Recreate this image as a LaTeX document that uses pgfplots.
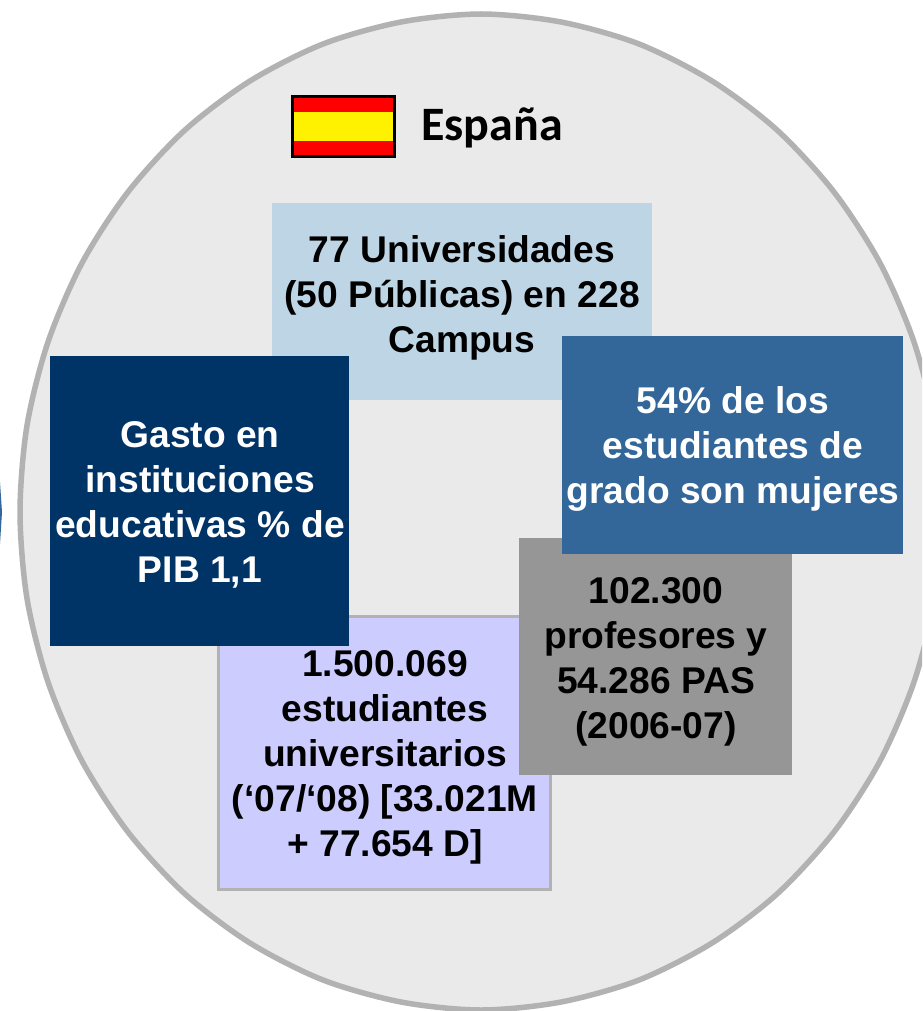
\documentclass[border=0pt]{standalone}
\usepackage{fontspec}
\setmainfont{Liberation Sans}
\newfontfamily\cardfont{Carlito}
\usepackage{pgfplots}
\pgfplotsset{compat=1.18}
\definecolor{circfill}{HTML}{EAEAEA}
\definecolor{circline}{HTML}{B2B2B2}
\definecolor{lightbox}{HTML}{BDD5E4}
\definecolor{navybox}{HTML}{003366}
\definecolor{bluebox}{HTML}{336699}
\definecolor{graybox}{HTML}{969696}
\definecolor{lavbox}{HTML}{CCCCFF}
\tikzset{boxtext/.style={font=\fontsize{37.2}{45}\selectfont\bfseries, align=center, inner sep=0pt}}

\begin{document}
\begin{tikzpicture}
\begin{axis}[
    scale only axis,
    width=922pt, height=1011pt,
    xmin=0, xmax=922, ymin=0, ymax=1011,
    y dir=reverse,
    axis lines=none,
]
% page background, keeps the full frame in the bounding box
\addplot[fill=white, draw=none] coordinates {(0,0)(922,0)(922,1011)(0,1011)} --cycle;
% sliver of the neighbouring shape at the left edge
\addplot[fill=bluebox, draw=none] coordinates {(0,482)(2,512)(0,544)} --cycle;
% big ellipse
\addplot[smooth cycle, fill=circfill, draw=circline, line width=5.5pt] coordinates {
    (942,512)(935,598.5)(914,682)(880,761)(834,832)(777,894)(712,943)(639,980)(561,1002)
    (481,1010)(401,1002)(323,980)(250,943)(185,894)(128,832)(82,761)(48,682)(27,598.5)
    (20,512)(27,425.5)(48,342)(82,263)(128,192)(185,130)(250,81)(323,44)(401,22)
    (481,14)(561,22)(639,44)(712,81)(777,130)(834,192)(880,263)(914,342)(935,425.5)
};
% flag
\addplot[fill=red, draw=none] coordinates {(291,95)(396,95)(396,158)(291,158)} --cycle;
\addplot[fill=yellow, draw=none] coordinates {(293,112)(394,112)(394,141)(293,141)} --cycle;
\addplot[draw=black, line width=2.6pt] coordinates {(292.5,96.5)(394.5,96.5)(394.5,156.5)(292.5,156.5)} --cycle;
% boxes, back to front
\addplot[fill=lightbox, draw=none] coordinates {(272,203)(652,203)(652,400)(272,400)} --cycle;
\addplot[fill=lavbox, draw=circline, line width=3pt] coordinates {(218,616)(550,616)(550,889)(218,889)} --cycle;
\addplot[fill=graybox, draw=none] coordinates {(519,538)(792,538)(792,775)(519,775)} --cycle;
\addplot[fill=navybox, draw=none] coordinates {(50,356)(349,356)(349,646)(50,646)} --cycle;
\addplot[fill=bluebox, draw=none] coordinates {(562,336)(903,336)(903,554)(562,554)} --cycle;
% text
\node[font=\cardfont\fontsize{48}{56}\selectfont\bfseries, anchor=west, inner sep=0pt] at (421,128) {España};
\node[boxtext] at (462,298) {77 Universidades\\(50 Públicas) en 228\\Campus};
\node[boxtext, text=white] at (200,505) {Gasto en\\instituciones\\educativas \% de\\PIB 1,1};
\node[boxtext, text=white] at (733,449) {54\% de los\\estudiantes de\\grado son mujeres};
\node[boxtext] at (656,662) {102.300\\profesores y\\54.286 PAS\\(2006-07)};
\node[boxtext] at (385,757) {1.500.069\\estudiantes\\universitarios\\(‘07/‘08) [33.021M\\+ 77.654 D]};
\end{axis}
\end{tikzpicture}
\end{document}
